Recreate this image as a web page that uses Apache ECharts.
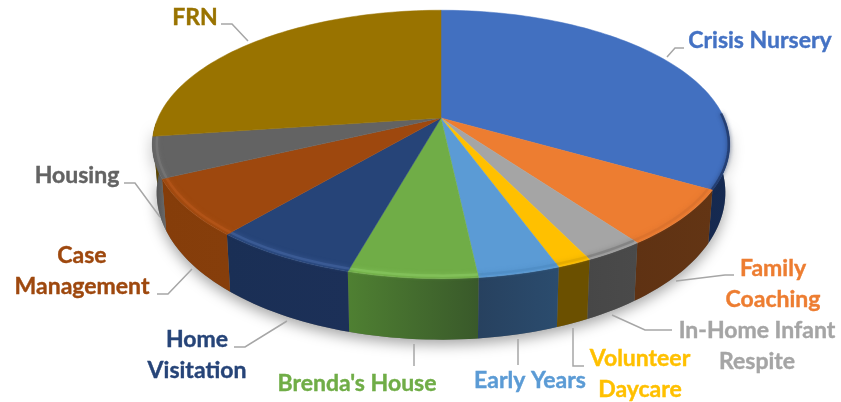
<!DOCTYPE html>
<html>
<head>
<meta charset="utf-8">
<style>html,body{margin:0;padding:0;background:#fff}#c{width:841px;height:402px}</style>
<script src="https://cdn.jsdelivr.net/npm/echarts@6/dist/echarts.min.js"></script>
</head>
<body>
<div id="c"></div>
<script>
// Data (share of the pie, percent)
var categories = ["Crisis Nursery","Family Coaching","In-Home Infant Respite","Volunteer Daycare","Early Years","Brenda's House","Home Visitation","Case Management","Housing","FRN"];
var values = [33.4,6.7,2.8,1.6,3.8,6.0,6.8,6.8,4.9,27.2];
var labelLines = [["Crisis Nursery"],["Family","Coaching"],["In-Home Infant","Respite"],["Volunteer","Daycare"],["Early Years"],["Brenda's House"],["Home","Visitation"],["Case","Management"],["Housing"],["FRN"]];

// Styles
var topColors  = ["#4270c0","#ed7d31","#a5a5a5","#ffc000","#5b9bd5","#70ad47","#264478","#9e480e","#636363","#997300"];
var wallLeft   = ["#16294f","#5f3213","#474747","#6b5000","#27415f","#4f8032","#1a2f55","#853d0a","#4a4a4a","#5c4500"];
var wallRight  = ["#152a52","#633514","#4a4a4a","#6b5000","#2b4c6e","#39592a","#1c3058","#863e0b","#6a6a6a","#5c4500"];
var rimColors  = ["#1f3664","#d9722e","#7d7d7d","#e0a800","#4f8cc4","#86c45e","#3f5f9a","#b5561a","#777777","#997300"];
var labelColors= topColors.map(function(c,i){return i===0?"#4472c4":c;});
var leaderColor = "#a6a6a6";

// Layout of the tilted disc
var CX=441, CY=118, B=283, A=129, K=0.197;
var labelPos = [[760,41],[773,269],[757,331],[640,359],[530,381],[357,384],[197,340],[82,256],[77,176],[195,18]];
var leaders = [
 [[667,57],[675,48],[684,48]],
 [[676,281],[725,275],[734,275]],
 [[612,315],[645,330],[672,330]],
 [[573,328],[573,366],[584,366]],
 [[518,339],[518,365]],
 [[414,344],[414,366]],
 [[287,321],[245,347],[234,347]],
 [[192,269],[168,294],[157,294]],
 [[160,217],[135,183],[124,183]],
 [[248,41],[232,24],[221,24]]
];

var total = values.reduce(function(a,b){return a+b;},0);
var starts = []; (function(){var s=0;values.forEach(function(v){starts.push(s/total*360);s+=v;});})();
function rad(d){return d*Math.PI/180;}
function topPt(deg,r){
  var c=Math.sin(rad(deg)), s=-Math.cos(rad(deg)), q=1-K*s*r;
  return [CX+B*c*r/q, CY+A*s*r/q];
}
function botPt(deg){
  var p=topPt(deg,1), s=-Math.cos(rad(deg));
  return [CX+(p[0]-CX)*0.985, p[1]+45+16*s];
}
function arc(fn,a,b,r){
  var pts=[], n=Math.max(2,Math.ceil(Math.abs(b-a)/1.5));
  for(var i=0;i<=n;i++){pts.push(fn(a+(b-a)*i/n,r));}
  return pts;
}
function clip(a,b,lo,hi){return [Math.max(a,lo),Math.min(b,hi)];}

function renderShadow(){
  var front=arc(botPt,92,268);
  var pts=arc(topPt,92,268,1).concat(front.slice().reverse());
  return {type:'polygon',shape:{points:pts},style:{fill:'#777',shadowColor:'rgba(0,0,0,0.36)',shadowBlur:14,shadowOffsetY:5}};
}
function renderWall(params,api){
  var i=api.value(0), a0=starts[i], a1=a0+api.value(1)/total*360;
  var r=clip(a0,a1,92,268);
  if(r[0]>=r[1]) return {type:'group',children:[]};
  var t=arc(topPt,r[0],r[1],1), b=arc(botPt,r[0],r[1]);
  var pts=t.concat(b.slice().reverse());
  var xs=pts.map(function(p){return p[0];});
  var minX=Math.min.apply(null,xs), maxX=Math.max.apply(null,xs);
  return {type:'polygon',shape:{points:pts},style:{
    fill:new echarts.graphic.LinearGradient(minX,0,maxX,0,[{offset:0,color:wallLeft[i]},{offset:1,color:wallRight[i]}],true)
  }};
}
function renderTop(params,api){
  var i=api.value(0), a0=starts[i], a1=a0+api.value(1)/total*360;
  var pts=[[CX,CY]].concat(arc(topPt,a0,a1,1));
  var kids=[{type:'polygon',shape:{points:pts},style:{fill:topColors[i],stroke:topColors[i],lineWidth:0.5}}];
  var r=clip(a0,a1,88,262);
  if(r[0]<r[1]){
    kids.push({type:'polyline',shape:{points:arc(topPt,r[0],r[1],i===0?0.997:0.985)},silent:true,
      style:{fill:null,stroke:rimColors[i],lineWidth:2.5,opacity:0.75,shadowColor:rimColors[i],shadowBlur:4}});
  }
  return {type:'group',children:kids};
}
function renderLabel(params,api){
  var i=api.value(0), kids=[];
  kids.push({type:'polyline',shape:{points:leaders[i]},style:{fill:null,stroke:leaderColor,lineWidth:1.5}});
  labelLines[i].forEach(function(line,j){
    kids.push({type:'text',style:{text:line,x:labelPos[i][0],y:labelPos[i][1]+j*31,align:'center',verticalAlign:'middle',
      fill:labelColors[i],stroke:labelColors[i],lineWidth:0.4,font:'bold 23px Lato, "Open Sans", sans-serif'}});
  });
  return {type:'group',children:kids};
}
var seriesData = values.map(function(v,i){return [i,v,categories[i]];});
var chart = echarts.init(document.getElementById('c'),null,{renderer:'canvas'});
chart.setOption({
  animation:false,
  backgroundColor:'#fff',
  series:[
    {type:'custom',coordinateSystem:'none',z:1,silent:true,data:[[0]],renderItem:renderShadow},
    {type:'custom',coordinateSystem:'none',z:2,silent:true,data:seriesData,renderItem:renderWall},
    {type:'custom',coordinateSystem:'none',z:3,silent:true,data:seriesData,renderItem:renderTop},
    {type:'custom',coordinateSystem:'none',z:4,silent:true,data:seriesData,renderItem:renderLabel}
  ]
});
</script>
</body>
</html>
